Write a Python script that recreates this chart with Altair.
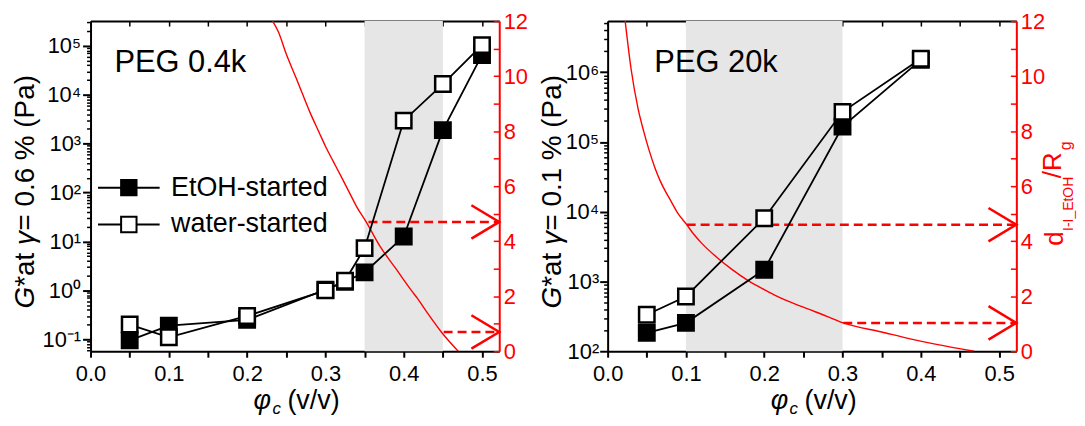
import altair as alt
import pandas as pd

FONT = "Liberation Sans"
XMAX = 0.522
W, H = 411, 332

# ---------------- data ----------------
L_phi = [0.05, 0.1, 0.2, 0.3, 0.325, 0.35, 0.4, 0.45, 0.5]
L_etoh = [0.095, 0.19, 0.25, 1.03, 1.5, 2.33, 12.6, 1890, 65000]
L_water = [0.2, 0.11, 0.3, 1.0, 1.57, 7.3, 2950, 16500, 103000]

R_phi = [0.05, 0.1, 0.2, 0.3, 0.4]
R_etoh = [183, 255, 1475, 166000, 1500000]
R_water = [334, 610, 8050, 270000, 1560000]

L_curve_phi = [0.2326, 0.24, 0.25, 0.263, 0.27, 0.28, 0.292, 0.30, 0.31, 0.321, 0.33,
               0.34, 0.352, 0.37, 0.39, 0.41, 0.418, 0.43, 0.448, 0.4696]
L_curve_d = [12.0, 11.6, 10.8, 9.9, 9.4, 8.7, 7.95, 7.45, 6.9, 6.3, 5.8,
             5.25, 4.7, 3.8, 3.0, 2.2, 1.9, 1.4, 0.7, 0.0]

R_curve_phi = [0.0224, 0.03, 0.039, 0.046, 0.053, 0.06, 0.067, 0.074, 0.08, 0.09,
               0.101, 0.11, 0.12, 0.14, 0.16, 0.18, 0.2, 0.216, 0.25, 0.28,
               0.301, 0.35, 0.385, 0.42, 0.468]
R_curve_d = [12.0, 10.25, 8.8, 8.0, 7.3, 6.7, 6.2, 5.8, 5.5, 5.0,
             4.6, 4.25, 3.93, 3.4, 2.95, 2.56, 2.24, 2.0, 1.6, 1.27,
             1.03, 0.7, 0.46, 0.25, 0.0]

L_shade = [0.35, 0.45]
R_shade = [0.1, 0.3]

L_arrow_start = [0.355, 0.451]
L_arrow_level = [4.7, 0.7]
R_arrow_start = [0.101, 0.301]
R_arrow_level = [4.6, 1.03]

L_ydomain = [0.057, 3.2e5]
R_ydomain = [100, 5.4e6]
L_major = [0.1, 1, 10, 100, 1e3, 1e4, 1e5]
R_major = [100, 1e3, 1e4, 1e5, 1e6]

x_ticks = [round(0.05 * i, 2) for i in range(11)]
red_ticks = list(range(13))
SERIES = ["EtOH-started", "water-started"]

SUP = {-1: "⁻¹", 0: "⁰", 1: "¹", 2: "²", 3: "³", 4: "⁴", 5: "⁵", 6: "⁶"}
LOG_EXPR = "'10' + (" + " : ".join(
    f"round(log(datum.value)/LN10) == {k} ? '{s}'" for k, s in SUP.items()) + " : '')"

LEG_PATH = "M-4,0H-1M1,0H4M-1,-1H1V1H-1Z"
ARROW_PATH = "M-1,-0.6L0,0L-1,0.6"


def minors(dom):
    out = []
    for k in range(-3, 8):
        for m in range(2, 10):
            v = m * 10.0 ** k
            if dom[0] <= v <= dom[1]:
                out.append(v)
    return out


def text_piece(txt, fs, px, py, color="black", style="normal", angle=0):
    return alt.Chart(pd.DataFrame({"t": [txt]})).mark_text(
        align="left", baseline="alphabetic", fontSize=fs, fontStyle=style,
        angle=angle, font=FONT, color=color).encode(
        text="t:N", x=alt.value(px), y=alt.value(py))


def ytitle_pieces(gamma_txt, bx, start):
    fs = 28
    segs = [("G", "italic", 0.778), ("*at ", "normal", 1.501),
            ("γ", "italic", 0.52), (gamma_txt, "normal", None)]
    out = []
    pos = start
    for txt, style, w in segs:
        out.append(text_piece(txt, fs, bx, pos, style=style, angle=270))
        if w is not None:
            pos -= w * fs
    return out


def panel(phis, etoh, water, cphi, cd, shade, a_start, a_level, ydom, major,
          gamma_txt, title_bx, peg, peg_x, legend, red_title, lab_pad):
    xs = alt.Scale(domain=[0, XMAX], nice=False, zero=False)
    ys = alt.Scale(type="log", domain=ydom, nice=False)
    rs = alt.Scale(domain=[0, 12], nice=False)

    df = pd.DataFrame({
        "phi": phis + phis,
        "G": etoh + water,
        "series": [SERIES[0]] * len(phis) + [SERIES[1]] * len(phis),
    })
    cdf = pd.DataFrame({"phi": cphi, "d": cd})
    sdf = pd.DataFrame({"x0": [shade[0]], "x1": [shade[1]]})
    adf = pd.DataFrame({"x0": a_start, "x1": [XMAX] * len(a_start), "d": a_level})

    bottom_axis = alt.Axis(orient="bottom", values=x_ticks, title=None, grid=False,
                           labelExpr="round(datum.value*20) % 2 == 0 ? format(datum.value, '.1f') : ''",
                           tickSize=6, tickWidth=2, domainWidth=2, domainColor="black",
                           tickColor="black", labelFontSize=22, labelPadding=6,
                           labelColor="black", labelFlush=False, labelOverlap=False)

    shade_l = alt.Chart(sdf).mark_rect(color="#e6e6e6").encode(
        x=alt.X("x0:Q", scale=xs, axis=bottom_axis), x2="x1:Q")

    curve = alt.Chart(cdf).mark_line(color="red", strokeWidth=1.4, clip=True,
                                     interpolate="monotone").encode(
        x=alt.X("phi:Q", scale=xs,
                axis=alt.Axis(orient="top", ticks=False, labels=False, title=None,
                              grid=False, domainWidth=2, domainColor="black")),
        y=alt.Y("d:Q", scale=rs,
                axis=alt.Axis(orient="right", ticks=False, labels=False, title=None,
                              grid=False, domainWidth=2, domainColor="red")))

    dashed = alt.Chart(adf).mark_rule(color="red", strokeWidth=2.5, strokeDash=[9, 5]).encode(
        x=alt.X("x0:Q", scale=xs, axis=None), x2="x1:Q",
        y=alt.Y("d:Q", scale=rs,
                axis=alt.Axis(orient="right", offset=-6, domain=False, values=red_ticks,
                              tickSize=6, tickWidth=1.5, tickColor="red", grid=False,
                              labelExpr="datum.value % 2 == 0 ? datum.label : ''",
                              labelColor="red", labelFontSize=22, labelPadding=4,
                              labelFlush=False, labelOverlap=False, title=None)))

    arrows = alt.Chart(adf).mark_point(shape=ARROW_PATH, size=3136, filled=False,
                                       stroke="red", strokeWidth=2.5, opacity=1).encode(
        x=alt.X("x1:Q", scale=xs, axis=None),
        y=alt.Y("d:Q", scale=rs, axis=None))

    lines = alt.Chart(df).mark_line(color="black", strokeWidth=1.8).encode(
        x=alt.X("phi:Q", scale=xs, axis=None),
        y=alt.Y("G:Q", scale=ys,
                axis=alt.Axis(orient="left", values=major, labelExpr=LOG_EXPR,
                              tickSize=8, tickWidth=2, domainWidth=2, domainColor="black",
                              tickColor="black", labelFontSize=22, labelColor="black",
                              labelPadding=lab_pad, labelFlush=False, labelOverlap=False,
                              grid=False, title=None)),
        detail="series:N")

    if legend:
        leg = alt.Legend(orient="none", legendX=25, legendY=154, title=None,
                         symbolType=LEG_PATH, symbolSize=240, symbolStrokeColor="black",
                         symbolStrokeWidth=2, labelFontSize=27, labelFont=FONT,
                         labelColor="black", labelOffset=29, rowPadding=9, padding=0)
    else:
        leg = None

    squares = alt.Chart(df).mark_square(size=240, stroke="black", strokeWidth=2.5,
                                        opacity=1).encode(
        x=alt.X("phi:Q", scale=xs,
                axis=alt.Axis(orient="top", offset=-5, domain=False, values=x_ticks,
                              tickSize=5, tickWidth=1.5, tickColor="black", labels=False,
                              title=None, grid=False)),
        y=alt.Y("G:Q", scale=ys,
                axis=alt.Axis(orient="left", values=minors(ydom), labels=False,
                              tickSize=4, tickWidth=1.5, tickColor="black", domain=False,
                              title=None, grid=False)),
        fill=alt.Fill("series:N", scale=alt.Scale(domain=SERIES, range=["black", "white"]),
                      legend=leg))

    peg_t = alt.Chart(pd.DataFrame({"t": [peg]})).mark_text(
        align="left", baseline="middle", fontSize=31, font=FONT, color="black").encode(
        text="t:N", x=alt.value(peg_x), y=alt.value(42))

    # x axis title: phi (italic) with subscript c, then (v/v)
    xt = [text_piece("φ", 27, 164, H + 58, style="italic"),
          text_piece("c", 17, 183, H + 63, style="italic"),
          text_piece("(v/v)", 27, 198, H + 58)]

    layers = [shade_l, curve, dashed, arrows, lines, squares, peg_t] + xt
    layers += ytitle_pieces(gamma_txt, title_bx, 289)

    if red_title:
        pieces = [("d", 26, 458, 226), ("I-I_EtOH", 14, 468, 211),
                  ("/R", 26, 456, 158), ("g", 16, 466, 130)]
        for txt, fs, px, py in pieces:
            layers.append(text_piece(txt, fs, px, py, color="red", angle=270))

    return alt.layer(*layers).resolve_scale(x="independent", y="independent").properties(
        width=W, height=H)


left = panel(L_phi, L_etoh, L_water, L_curve_phi, L_curve_d, L_shade,
             L_arrow_start, L_arrow_level, L_ydomain, L_major,
             " = 0.6 % (Pa)", -57, "PEG 0.4k", 24, True, False, 2)
right = panel(R_phi, R_etoh, R_water, R_curve_phi, R_curve_d, R_shade,
              R_arrow_start, R_arrow_level, R_ydomain, R_major,
              " = 0.1 % (Pa)", -47, "PEG 20k", 47, False, True, 1)

chart = alt.hconcat(left, right, spacing=10).configure_view(stroke=None).configure(
    font=FONT).properties(padding={"left": 3, "top": 0, "right": 0, "bottom": 0})

chart.save("out.html", embed_options={"renderer": "svg", "actions": False})
